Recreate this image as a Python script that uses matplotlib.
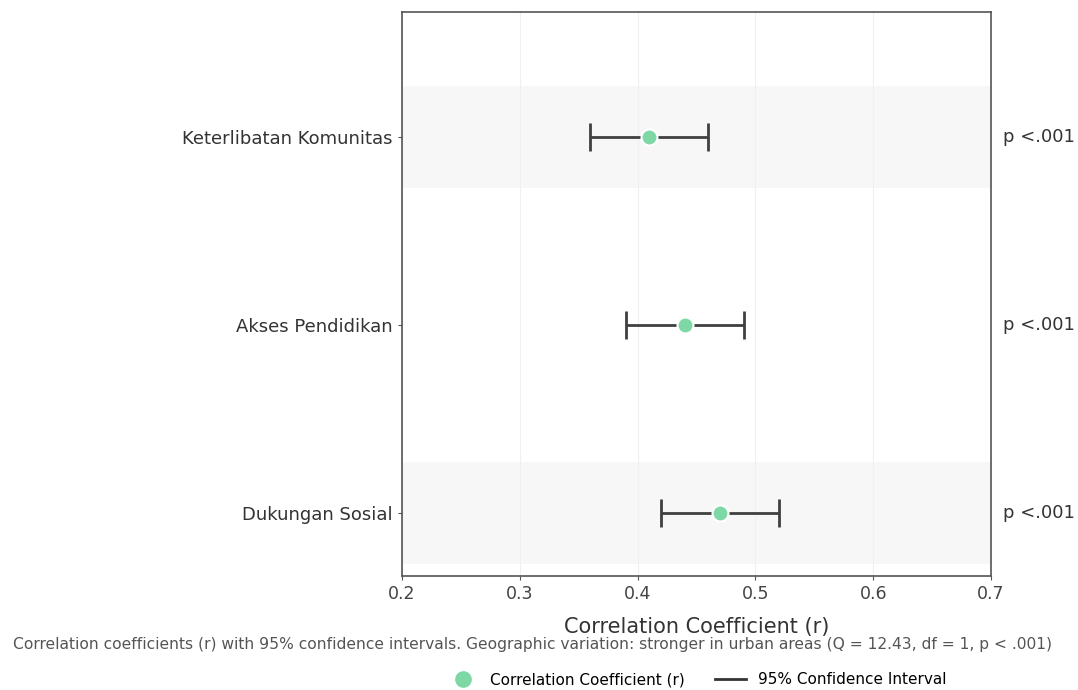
import matplotlib
matplotlib.use("Agg")
import matplotlib.pyplot as plt
from matplotlib.lines import Line2D

categories = ["Keterlibatan Komunitas", "Akses Pendidikan", "Dukungan Sosial"]
r_values = [0.41, 0.44, 0.47]
ci_low = [0.36, 0.39, 0.42]
ci_high = [0.46, 0.49, 0.52]
p_labels = ["p <.001", "p <.001", "p <.001"]
xticks = [0.2, 0.3, 0.4, 0.5, 0.6, 0.7]
caption = ("Correlation coefficients (r) with 95% confidence intervals. Geographic variation: "
           "stronger in urban areas (Q = 12.43, df = 1, p < .001)")

fig = plt.figure(figsize=(10.78, 6.9), dpi=100)
ax = fig.add_axes([402/1078, 1-576/690, (991-402)/1078, (576-12)/690])

n = len(categories)
ypos = [n - 1 - i for i in range(n)]

for i, y in enumerate(ypos):
    if i % 2 == 0:
        ax.axhspan(y - 0.27, y + 0.27, color="#f7f7f7", zorder=0, lw=0)

for i, y in enumerate(ypos):
    xerr = [[r_values[i] - ci_low[i]], [ci_high[i] - r_values[i]]]
    ax.errorbar([r_values[i]], [y], xerr=xerr, fmt="none", ecolor="#404040",
                elinewidth=2, capsize=10, capthick=2, zorder=2)
    ax.plot([r_values[i]], [y], "o", color="#7dd8a5", markersize=11.5,
            markeredgecolor="white", markeredgewidth=1.5, zorder=3)
    ax.text(1.02, (y + 0.335) / 3.0, p_labels[i], transform=ax.transAxes,
            ha="left", va="center", fontsize=13, color="#333333")

ax.set_xlim(0.2, 0.7)
ax.set_ylim(-0.335, 2.665)
ax.set_xticks(xticks)
ax.set_xticklabels([f"{t:.1f}" for t in xticks], fontsize=12.5, color="#444444")
ax.set_yticks(ypos)
ax.set_yticklabels(categories, fontsize=13, color="#333333")
ax.tick_params(axis="y", length=3, color="#555555")
ax.tick_params(axis="x", length=3, color="#555555")
ax.grid(axis="x", color="#f0f0f0", lw=0.8, zorder=0)
ax.set_axisbelow(True)
for s in ax.spines.values():
    s.set_color("#555555")
    s.set_linewidth(1.2)
ax.set_xlabel("Correlation Coefficient (r)", fontsize=15, color="#333333", labelpad=10)

fig.text(0.494, 1-645/690, caption, ha="center", va="center", fontsize=11.2, color="#555555")

handles = [Line2D([], [], marker="o", ls="none", color="#7dd8a5", markersize=11),
           Line2D([], [], color="#333333", lw=2)]
fig.legend(handles, ["Correlation Coefficient (r)", "95% Confidence Interval"],
           loc="center", bbox_to_anchor=(697/1078, 1-680/690), ncol=2, frameon=False,
           fontsize=11, handlelength=2, columnspacing=2)

fig.savefig("out.png", dpi=100)
